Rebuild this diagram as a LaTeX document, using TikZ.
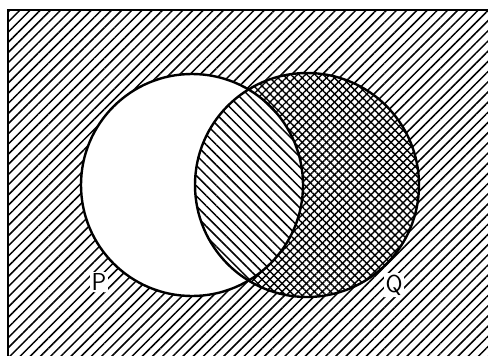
\documentclass[tikz,border=0pt]{standalone}
\usepackage{fontspec}
\usetikzlibrary{patterns.meta}
\tikzset{
  outsidehatch/.style={pattern={Lines[angle=45,distance=7.2pt,line width=1.5pt]}},
  interhatch/.style={pattern={Lines[angle=-45,distance=7.2pt,line width=1.5pt]}},
  crossA/.style={pattern={Lines[angle=45,distance=5.7pt,line width=1.4pt]}},
  crossB/.style={pattern={Lines[angle=-45,distance=5.7pt,line width=1.4pt]}},
  setline/.style={line width=2.4pt},
  setlabel/.style={fill=white,inner sep=1.5pt,font=\sffamily\fontsize{24.5}{24.5}\selectfont}
}
\begin{document}
\begin{tikzpicture}[x=1pt,y=-1pt]
\useasboundingbox (0,0) rectangle (488,356);
\clip (0,0) rectangle (488,356);
\coordinate (pc) at (192,185);
\coordinate (qc) at (307,185);
% universe
\fill[outsidehatch] (8,10) rectangle (500,370);
\draw[line width=2.8pt] (8,380) -- (8,10) -- (500,10);
% circles white
\fill[white] (pc) circle[radius=111];
\fill[white] (qc) circle[radius=112];
% Q crosshatch
\fill[crossA] (qc) circle[radius=112];
\fill[crossB] (qc) circle[radius=112];
% intersection
\begin{scope}
  \clip (pc) circle[radius=111];
  \fill[white] (qc) circle[radius=112];
  \fill[interhatch] (qc) circle[radius=112];
\end{scope}
\draw[setline] (pc) circle[radius=111];
\draw[setline] (qc) circle[radius=112];
\node[setlabel] (P) at (99,282) {P};
\node[setlabel] (Q) at (394,285) {Q};
\end{tikzpicture}
\end{document}
